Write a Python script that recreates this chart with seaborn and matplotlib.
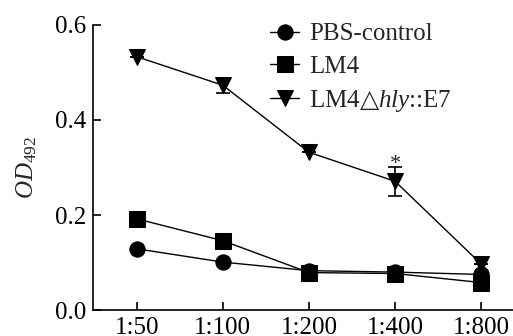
import pandas as pd
import matplotlib
matplotlib.use("Agg")
import matplotlib.pyplot as plt
import seaborn as sns

# Values
dilutions = ["1:50", "1:100", "1:200", "1:400", "1:800"]
pbs_control = [0.129, 0.101, 0.083, 0.080, 0.075]
lm4 = [0.192, 0.146, 0.079, 0.077, 0.058]
lm4_hly_e7 = [0.533, 0.473, 0.332, 0.271, 0.097]
lm4_hly_e7_err = [0.0, 0.016, 0.0, 0.030, 0.0]
group_names = ["PBS-control", "LM4", "LM4$\\mathsf{△}\\mathit{hly}$::E7"]

df = pd.DataFrame({
    "dilution": dilutions * 3,
    "od": pbs_control + lm4 + lm4_hly_e7,
    "group": [g for g in group_names for _ in dilutions],
})

sns.set_style("ticks")
plt.rcParams["font.family"] = ["Liberation Serif", "DejaVu Sans"]
plt.rcParams["mathtext.fontset"] = "custom"
plt.rcParams["mathtext.rm"] = "Liberation Serif"
plt.rcParams["mathtext.it"] = "Liberation Serif:italic"
plt.rcParams["mathtext.sf"] = "DejaVu Sans"

fig = plt.figure(figsize=(5.13, 3.36), dpi=100)
ax = fig.add_axes([0.181, 0.077, 0.819, 0.849])

sns.lineplot(data=df, x="dilution", y="od", style="group", markers=["o", "s", "v"],
             dashes=False, color="black", linewidth=1.0, markersize=11,
             markeredgecolor="black", ax=ax)

ax.errorbar(range(len(dilutions)), lm4_hly_e7, yerr=lm4_hly_e7_err, fmt="none",
            ecolor="black", elinewidth=1.2, capsize=5, capthick=1.2)
# significance mark above the 1:400 point
ax.text(3, 0.307, "*", ha="center", va="center", fontsize=16)

ax.set_xlim(-0.51, 4.37)
ax.set_ylim(0, 0.6)
ax.set_yticks([0.0, 0.2, 0.4, 0.6])
ax.set_yticklabels(["0.0", "0.2", "0.4", "0.6"])
ax.tick_params(direction="in", length=6, width=1.2, labelsize=18, colors="black", pad=5)
for s in ["left", "bottom"]:
    ax.spines[s].set_linewidth(1.2)
    ax.spines[s].set_color("black")
sns.despine(ax=ax)

ax.set_xlabel("")
ax.set_ylabel("$\\mathit{OD}_{\\mathrm{492}}$", fontsize=18, labelpad=11)

ax.legend(title=None, frameon=False, fontsize=18, loc="upper left",
          bbox_to_anchor=(0.527, 0.932), bbox_transform=fig.transFigure,
          handlelength=1.15, handletextpad=0.4, labelspacing=0.4,
          borderpad=0, borderaxespad=0)

fig.savefig("out.png", dpi=100)
